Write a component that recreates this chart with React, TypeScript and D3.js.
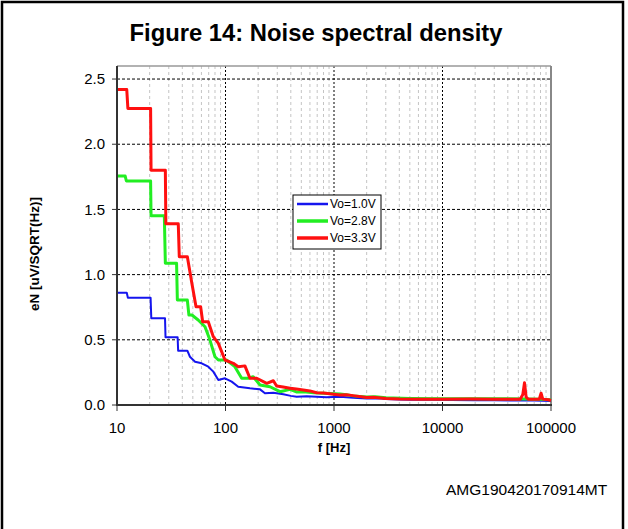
import * as d3 from 'd3';

// eN [uV/SQRT(Hz)] vs f [Hz]
const vo10: [number, number][] = [
  [10, 0.861], [12.3, 0.861], [12.6, 0.823], [20.4, 0.823], [20.7, 0.665], [27.7, 0.665],
  [28, 0.519], [36.2, 0.519], [36.6, 0.417], [44.5, 0.417], [47, 0.37], [52.4, 0.332],
  [60.3, 0.32], [69.4, 0.294], [77.2, 0.256], [85.9, 0.192], [98.9, 0.205], [114, 0.179],
  [131, 0.14], [168, 0.128], [208, 0.12], [231, 0.09], [276, 0.094], [341, 0.082],
  [400, 0.07], [453, 0.064], [560, 0.068], [692, 0.064], [850, 0.06], [1135, 0.064],
  [1500, 0.056], [2000, 0.05], [2600, 0.052], [3000, 0.046], [4000, 0.043], [5000, 0.041],
  [8000, 0.04], [12000, 0.038], [20000, 0.037], [30000, 0.036], [50000, 0.035],
  [70000, 0.034], [100000, 0.03],
];

const vo28: [number, number][] = [
  [10, 1.756], [11.9, 1.756], [12.2, 1.718], [20.4, 1.718], [20.6, 1.452], [27.3, 1.452],
  [27.9, 1.087], [35.4, 1.087], [36, 0.805], [44.5, 0.805], [46, 0.69], [49, 0.69],
  [56, 0.652], [64.7, 0.6], [71.9, 0.498], [80, 0.37], [85.9, 0.345], [102, 0.345],
  [122, 0.294], [141, 0.205], [162, 0.205], [180, 0.217], [208, 0.153], [257, 0.14],
  [318, 0.102], [393, 0.12], [450, 0.1], [521, 0.102], [650, 0.093], [797, 0.09],
  [1135, 0.085], [1300, 0.078], [1500, 0.07], [2000, 0.062], [2400, 0.064], [3000, 0.055],
  [5000, 0.05], [10000, 0.048], [20000, 0.047], [40000, 0.047], [60000, 0.046],
  [80000, 0.045], [100000, 0.04],
];

const vo33: [number, number][] = [
  [10, 2.42], [12.3, 2.42], [12.6, 2.275], [20.4, 2.275], [20.6, 1.8], [27.9, 1.8],
  [28.2, 1.39], [36.7, 1.39], [37.5, 1.137], [44.5, 1.137], [48.7, 0.946], [53.5, 0.754],
  [59, 0.754], [61.6, 0.639], [69.4, 0.639], [77.2, 0.524], [85.9, 0.473], [98.9, 0.345],
  [118, 0.32], [131, 0.294], [151, 0.3], [168, 0.205], [194, 0.205], [240, 0.166],
  [276, 0.186], [296, 0.146], [340, 0.138], [393, 0.128], [450, 0.122], [521, 0.115],
  [600, 0.108], [692, 0.094], [800, 0.092], [950, 0.085], [1135, 0.077], [1300, 0.079],
  [1500, 0.072], [2000, 0.058], [2300, 0.06], [3000, 0.05], [4000, 0.046], [6000, 0.045],
  [10000, 0.044], [18000, 0.046], [30000, 0.044], [52000, 0.044], [55000, 0.08],
  [57000, 0.17], [59000, 0.06], [62000, 0.044], [78000, 0.045], [81000, 0.09],
  [84000, 0.045], [95000, 0.04], [100000, 0.035],
];

const seriesNames = ['Vo=1.0V', 'Vo=2.8V', 'Vo=3.3V'];
const seriesColors = ['#1515ee', '#22ee22', '#ff1010'];
const seriesWidths = [2, 3, 3];
const yTicks = [0, 0.5, 1.0, 1.5, 2.0, 2.5];
const xTicks = [10, 100, 1000, 10000, 100000];

const FONT = '"Liberation Sans", Arial, sans-serif';

export default function App() {
  const x = d3.scaleLog().domain([10, 100000]).range([117, 551]);
  const y = d3.scaleLinear().domain([0, 2.6]).range([405, 66]);

  const line = d3.line<[number, number]>()
    .x((d) => x(d[0]))
    .y((d) => y(d[1]));

  const minor: number[] = [];
  for (let dec = 10; dec < 100000; dec *= 10) {
    for (let k = 2; k <= 9; k++) minor.push(dec * k);
  }

  const series = [vo10, vo28, vo33];
  const [x0, x1] = x.range();
  const [y0, y1] = y.range();

  return (
    <svg width={628} height={529} style={{ position: 'absolute', left: 0, top: 0, background: '#fff' }}
      fontFamily={FONT}>
      <rect x={2} y={2} width={621} height={560} fill="#fff" stroke="#000" strokeWidth={2.5} />

      <text x={316} y={41} textAnchor="middle" fontSize={23.8} fontWeight="bold">
        Figure 14: Noise spectral density
      </text>

      {/* minor vertical grid */}
      {minor.map((f) => (
        <line key={'m' + f} x1={x(f)} x2={x(f)} y1={y1} y2={y0}
          stroke="#c4c4c4" strokeDasharray="3,3" strokeWidth={1} />
      ))}
      {/* major vertical grid */}
      {xTicks.slice(1, -1).map((f) => (
        <line key={'M' + f} x1={x(f)} x2={x(f)} y1={y1} y2={y0}
          stroke="#000" strokeDasharray="2,2" strokeWidth={1} />
      ))}
      {/* horizontal grid */}
      {yTicks.slice(1).map((v) => (
        <line key={'h' + v} x1={x0} x2={x1} y1={y(v)} y2={y(v)}
          stroke="#000" strokeDasharray="3,2" strokeWidth={1} />
      ))}

      {/* frame */}
      <line x1={x0} x2={x1} y1={y1} y2={y1} stroke="#999" strokeWidth={1.5} />
      <line x1={x1} x2={x1} y1={y1} y2={y0} stroke="#888" strokeWidth={2} />

      {/* curves */}
      {series.map((s, i) => (
        <path key={seriesNames[i]} d={line(s) ?? ''} fill="none" stroke={seriesColors[i]}
          strokeWidth={seriesWidths[i]} strokeLinejoin="round" />
      ))}

      {/* axes */}
      <line x1={x0} x2={x0} y1={y1} y2={y0 + 1} stroke="#333" strokeWidth={2} />
      <line x1={x0} x2={x1 + 1} y1={y0} y2={y0} stroke="#333" strokeWidth={2} />
      {yTicks.map((v) => (
        <g key={'yt' + v}>
          <line x1={x0 - 5} x2={x0} y1={y(v)} y2={y(v)} stroke="#333" strokeWidth={1} />
          <text x={x0 - 12} y={y(v)} dy="0.35em" textAnchor="end" fontSize={15}>
            {d3.format('.1f')(v)}
          </text>
        </g>
      ))}
      {xTicks.map((f) => (
        <g key={'xt' + f}>
          <line x1={x(f)} x2={x(f)} y1={y0} y2={y0 + 6} stroke="#333" strokeWidth={1} />
          <text x={x(f)} y={y0 + 28} textAnchor="middle" fontSize={15}>{f}</text>
        </g>
      ))}

      <text x={334} y={452} textAnchor="middle" fontSize={13} fontWeight="bold">f [Hz]</text>
      <text transform="translate(39,254) rotate(-90)" textAnchor="middle" fontSize={13.5} fontWeight="bold">
        eN [uV/SQRT(Hz)]
      </text>

      {/* legend */}
      <rect x={293} y={195} width={88} height={54} fill="#fff" stroke="#000" strokeWidth={1} />
      {seriesNames.map((n, i) => (
        <g key={'lg' + n}>
          <line x1={297} x2={328} y1={204 + i * 17} y2={204 + i * 17}
            stroke={seriesColors[i]} strokeWidth={seriesWidths[i] + 0.5} />
          <text x={330} y={204 + i * 17} dy="0.35em" fontSize={12}>{n}</text>
        </g>
      ))}

      <text x={446} y={495} fontSize={15.5}>AMG190420170914MT</text>
    </svg>
  );
}
